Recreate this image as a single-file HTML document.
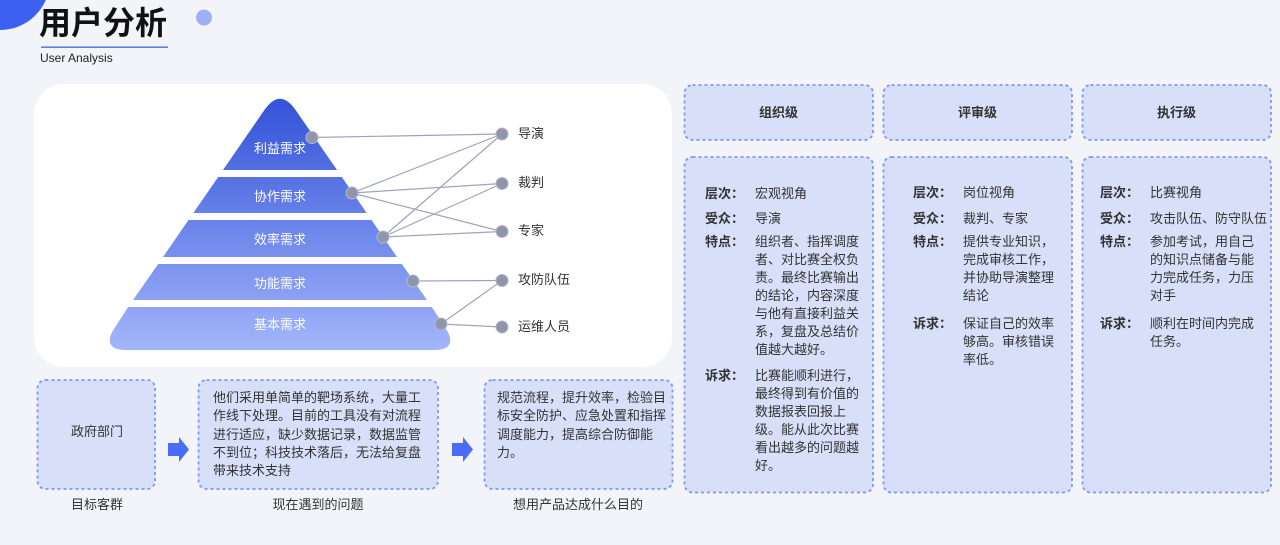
<!DOCTYPE html>
<html><head><meta charset="utf-8"><style>
*{margin:0;padding:0;box-sizing:border-box}
html,body{width:1280px;height:545px;overflow:hidden;background:#f3f4f9}
body{position:relative;font-family:"Liberation Sans","Noto Sans CJK SC",sans-serif;color:#333}
.t{position:absolute;white-space:nowrap;font-size:13px;line-height:18px}
.c{transform:translateX(-50%);text-align:center}
.w{color:#fff}
.b{font-weight:bold}
svg{position:absolute;left:0;top:0}
</style></head><body>
<svg width="1280" height="545" viewBox="0 0 1280 545">
<defs>
<linearGradient id="g" x1="0" y1="95" x2="0" y2="350" gradientUnits="userSpaceOnUse">
<stop offset="0" stop-color="#3151d8"/>
<stop offset="1" stop-color="#a3b5fa"/>
</linearGradient>
</defs>
<circle cx="0" cy="-20" r="50" fill="#3d60f0"/>
<circle cx="204" cy="17.5" r="8" fill="#9fb0f4"/>
<rect x="41" y="46.5" width="127" height="1.3" fill="#3f63e0"/>
<rect x="34" y="84" width="638" height="283" rx="30" fill="#fff"/>
<!-- pyramid -->
<path d="M223,170 L264.4,110 Q280,87.4 295.6,110 L337,170 Z" fill="url(#g)"/>
<polygon points="218.2,177 341.8,177 366.7,213 193.3,213" fill="url(#g)"/>
<polygon points="188.5,220 371.5,220 397,257 163,257" fill="url(#g)"/>
<polygon points="158.2,264 401.8,264 427,300 133,300" fill="url(#g)"/>
<path d="M128.2,307 L431.8,307 L446,329 C454,341 451,350 435,350 L125,350 C109,350 106,341 114,329 Z" fill="url(#g)"/>
<!-- lines -->
<g stroke="#9ea4bb" stroke-width="1.2" fill="none">
<line x1="312" y1="137.5" x2="502" y2="134"/>
<line x1="352" y1="193" x2="502" y2="134"/>
<line x1="352" y1="193" x2="502" y2="183.5"/>
<line x1="352" y1="193" x2="502" y2="231.5"/>
<line x1="383" y1="237" x2="502" y2="134"/>
<line x1="383" y1="237" x2="502" y2="183.5"/>
<line x1="383" y1="237" x2="502" y2="231.5"/>
<line x1="413" y1="281" x2="502" y2="280.5"/>
<line x1="441" y1="324" x2="502" y2="280.5"/>
<line x1="441" y1="324" x2="502" y2="327"/>
</g>
<g fill="#8f95aa" stroke="#b4b8c8" stroke-width="1">
<circle cx="312" cy="137.5" r="6"/>
<circle cx="352" cy="193" r="6"/>
<circle cx="383" cy="237" r="6"/>
<circle cx="413" cy="281" r="6"/>
<circle cx="441" cy="324" r="6"/>
<circle cx="502" cy="134" r="6"/>
<circle cx="502" cy="183.5" r="6"/>
<circle cx="502" cy="231.5" r="6"/>
<circle cx="502" cy="280.5" r="6"/>
<circle cx="502" cy="327" r="6"/>
</g>
<!-- boxes -->
<g fill="#d7dff9" stroke="#7e97f6" stroke-width="1.8" stroke-dasharray="3 3">
<rect x="37.5" y="380" width="117.5" height="109" rx="8"/>
<rect x="198.5" y="380" width="239.5" height="109" rx="8"/>
<rect x="484.5" y="380" width="188" height="109" rx="8"/>
<rect x="684.5" y="85" width="188.5" height="55" rx="8"/>
<rect x="883.5" y="85" width="188.5" height="55" rx="8"/>
<rect x="1082.5" y="85" width="188.5" height="55" rx="8"/>
<rect x="684.5" y="157" width="188.5" height="335.5" rx="8"/>
<rect x="883.5" y="157" width="188.5" height="335.5" rx="8"/>
<rect x="1082.5" y="157" width="188.5" height="335.5" rx="8"/>
</g>
<!-- arrows -->
<path d="M168,443 L179,443 L179,437 L189,449.5 L179,462 L179,456 L168,456 Z" fill="#4a6cf6"/>
<path d="M452,443 L463,443 L463,437 L473,449.5 L463,462 L463,456 L452,456 Z" fill="#4a6cf6"/>
</svg>

<div class="t" style="left:39px;top:3px;font-size:32px;line-height:40px;color:#111;font-weight:bold">用户分析</div>
<div class="t" style="left:40px;top:50px;font-size:12px;line-height:16px;color:#222">User Analysis</div>

<div class="t c w" style="left:280px;top:140px">利益需求</div>
<div class="t c w" style="left:280px;top:188px">协作需求</div>
<div class="t c w" style="left:280px;top:231px">效率需求</div>
<div class="t c w" style="left:280px;top:275px">功能需求</div>
<div class="t c w" style="left:280px;top:316px">基本需求</div>

<div class="t" style="left:518px;top:125px">导演</div>
<div class="t" style="left:518px;top:174px">裁判</div>
<div class="t" style="left:518px;top:222px">专家</div>
<div class="t" style="left:518px;top:271px">攻防队伍</div>
<div class="t" style="left:518px;top:318px">运维人员</div>

<div class="t c" style="left:97px;top:423px">政府部门</div>
<div class="t" style="left:213px;top:389px;line-height:18.3px">他们采用单简单的靶场系统，大量工<br>作线下处理。目前的工具没有对流程<br>进行适应，缺少数据记录，数据监管<br>不到位；科技技术落后，无法给复盘<br>带来技术支持</div>
<div class="t" style="left:497px;top:389px;line-height:18.3px">规范流程，提升效率，检验目<br>标安全防护、应急处置和指挥<br>调度能力，提高综合防御能<br>力。</div>
<div class="t c" style="left:97px;top:496px">目标客群</div>
<div class="t c" style="left:318px;top:496px">现在遇到的问题</div>
<div class="t c" style="left:578px;top:496px">想用产品达成什么目的</div>

<div class="t c b" style="left:778.5px;top:104px">组织级</div>
<div class="t c b" style="left:977.5px;top:104px">评审级</div>
<div class="t c b" style="left:1176.5px;top:104px">执行级</div>

<!-- col1 -->
<div class="t b" style="left:705px;top:185px">层次：</div>
<div class="t" style="left:755px;top:185px">宏观视角</div>
<div class="t b" style="left:705px;top:210px">受众：</div>
<div class="t" style="left:755px;top:210px">导演</div>
<div class="t b" style="left:705px;top:233px">特点：</div>
<div class="t" style="left:755px;top:233px">组织者、指挥调度<br>者、对比赛全权负<br>责。最终比赛输出<br>的结论，内容深度<br>与他有直接利益关<br>系，复盘及总结价<br>值越大越好。</div>
<div class="t b" style="left:705px;top:367px">诉求：</div>
<div class="t" style="left:755px;top:367px">比赛能顺利进行，<br>最终得到有价值的<br>数据报表回报上<br>级。能从此次比赛<br>看出越多的问题越<br>好。</div>

<!-- col2 -->
<div class="t b" style="left:913px;top:184px">层次：</div>
<div class="t" style="left:963px;top:184px">岗位视角</div>
<div class="t b" style="left:913px;top:210px">受众：</div>
<div class="t" style="left:963px;top:210px">裁判、专家</div>
<div class="t b" style="left:913px;top:233px">特点：</div>
<div class="t" style="left:963px;top:233px">提供专业知识，<br>完成审核工作，<br>并协助导演整理<br>结论</div>
<div class="t b" style="left:913px;top:315px">诉求：</div>
<div class="t" style="left:963px;top:315px">保证自己的效率<br>够高。审核错误<br>率低。</div>

<!-- col3 -->
<div class="t b" style="left:1100px;top:184px">层次：</div>
<div class="t" style="left:1150px;top:184px">比赛视角</div>
<div class="t b" style="left:1100px;top:210px">受众：</div>
<div class="t" style="left:1150px;top:210px">攻击队伍、防守队伍</div>
<div class="t b" style="left:1100px;top:233px">特点：</div>
<div class="t" style="left:1150px;top:233px">参加考试，用自己<br>的知识点储备与能<br>力完成任务，力压<br>对手</div>
<div class="t b" style="left:1100px;top:315px">诉求：</div>
<div class="t" style="left:1150px;top:315px">顺利在时间内完成<br>任务。</div>
</body></html>
